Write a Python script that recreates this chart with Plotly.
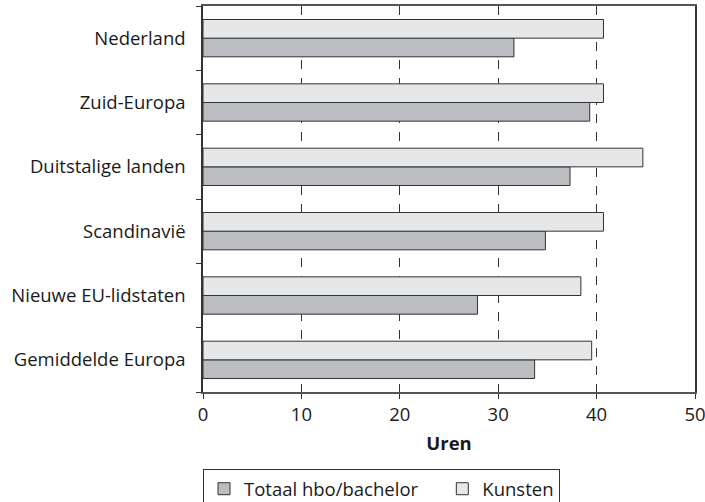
import plotly.graph_objects as go

categories = ["Nederland", "Zuid-Europa", "Duitstalige landen", "Scandinavië",
              "Nieuwe EU-lidstaten", "Gemiddelde Europa"]
totaal = [31.6, 39.3, 37.3, 34.8, 27.9, 33.7]
kunsten = [40.7, 40.7, 44.7, 40.7, 38.4, 39.5]
x_ticks = [0, 10, 20, 30, 40, 50]
series_names = ["Totaal hbo/bachelor", "Kunsten"]

FONT = "Open Sans"
FS = 18.5
PAD = "\u00a0" * 4
fig = go.Figure()
fig.add_trace(go.Bar(
    y=categories, x=totaal, orientation="h", name=series_names[0] + PAD,
    marker=dict(color="#bcbdc0", line=dict(color="#333333", width=1)),
))
fig.add_trace(go.Bar(
    y=categories, x=kunsten, orientation="h", name=series_names[1],
    marker=dict(color="#e6e7e8", line=dict(color="#333333", width=1)),
))

fig.update_layout(
    width=705, height=502,
    margin=dict(l=203, r=10, t=6, b=110, autoexpand=False),
    barmode="group", bargap=0.42, bargroupgap=0,
    plot_bgcolor="white", paper_bgcolor="white",
    font=dict(family=FONT, size=FS, color="#1a1a1a"),
    showlegend=True,
    legend=dict(orientation="h", x=0, xanchor="left", y=-0.2, yanchor="top",
                bordercolor="#333333", borderwidth=1,
                font=dict(family=FONT, size=FS, color="#1a1a1a"),
                traceorder="normal"),
)
fig.update_xaxes(
    range=[0, 50], tickvals=x_ticks, ticks="outside", ticklen=5,
    tickcolor="#333333", showline=True, linecolor="#555555", linewidth=1.5,
    mirror=True, showgrid=True, gridcolor="#333333", griddash="dash",
    gridwidth=1, zeroline=False, automargin=False, ticklabeloverflow="allow",
    title=dict(text="<b>Uren</b>", font=dict(family=FONT, size=FS), standoff=12),
)
fig.update_yaxes(
    categoryorder="array", categoryarray=list(reversed(categories)),
    ticks="outside", tickson="boundaries", ticklen=5, tickcolor="#333333",
    showline=True, linecolor="#333333", linewidth=1.5, mirror=True,
    showgrid=False, ticklabelstandoff=12, automargin=False,
)
fig.write_html("out.html", config={"displayModeBar": False},
               post_script="document.body.style.margin='0';")
